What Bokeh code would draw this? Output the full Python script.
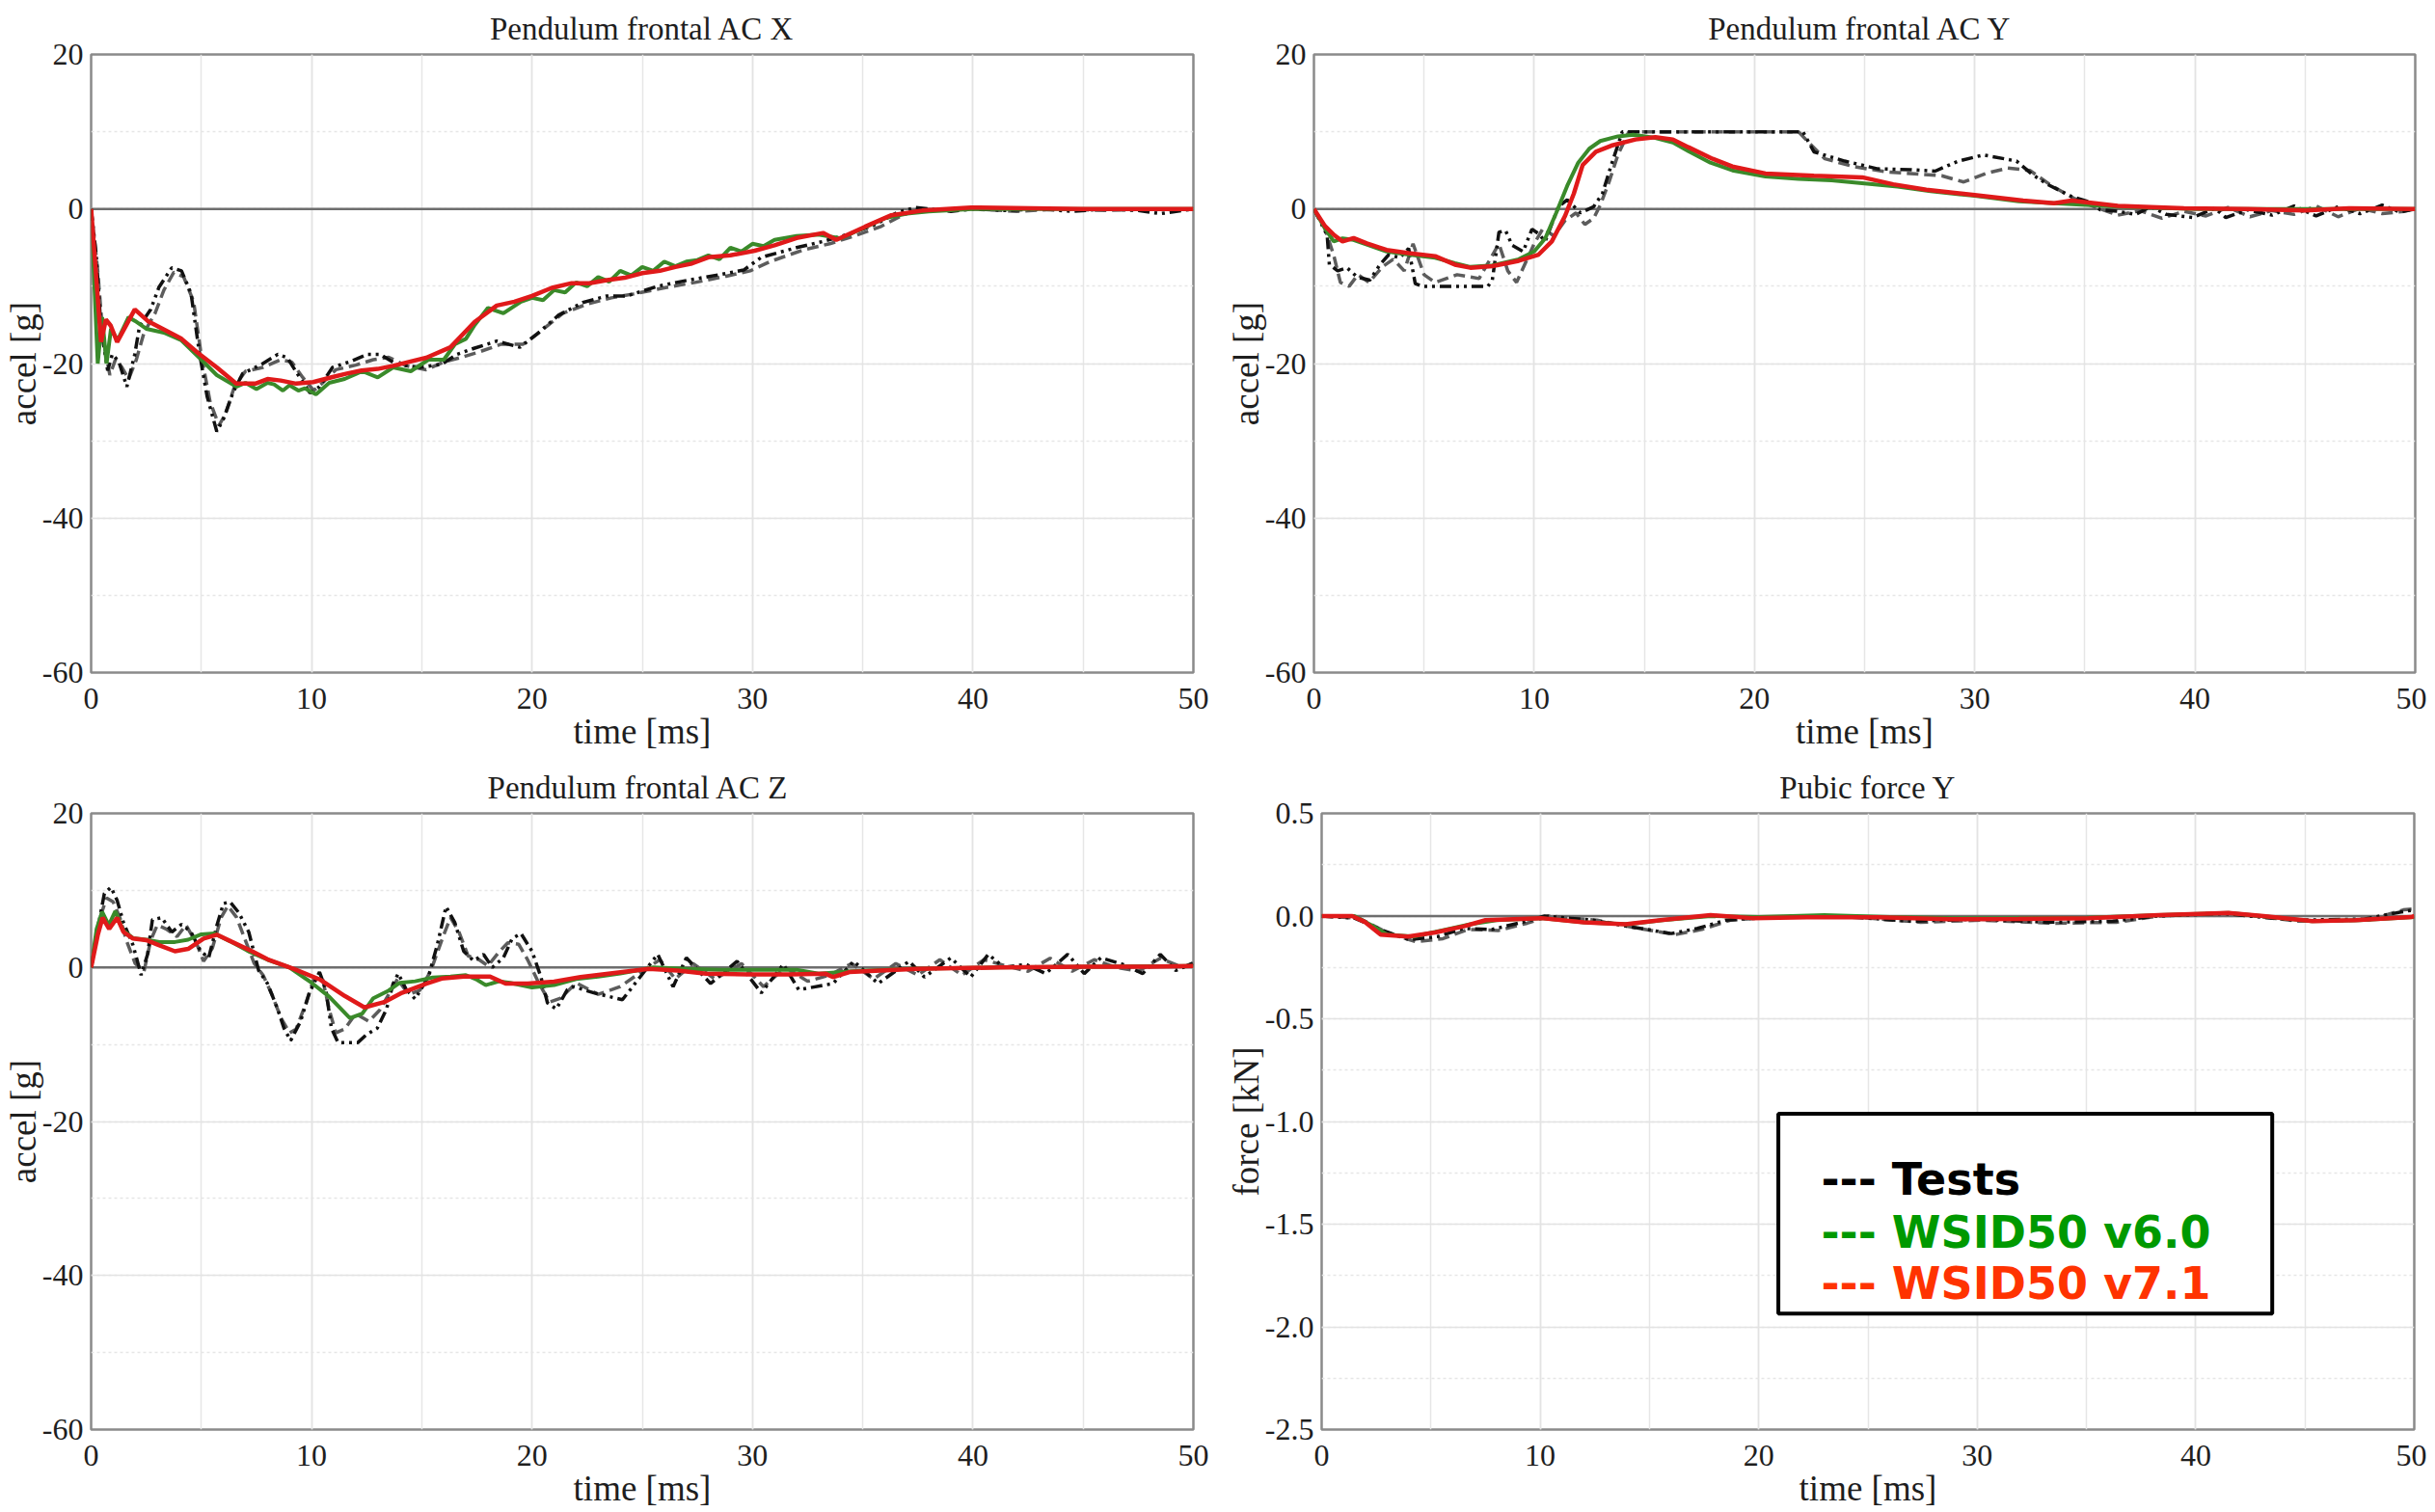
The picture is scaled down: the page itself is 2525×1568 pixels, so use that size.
from bokeh.plotting import figure
from bokeh.layouts import column, row
from bokeh.models import Range1d, SingleIntervalTicker, PrintfTickFormatter, Span, BoxAnnotation, Label
from bokeh.embed import file_html
from bokeh.resources import INLINE

# ---------------- Panel 1: Pendulum frontal AC X ----------------
x_test1_t = [0, 0.23, 0.45, 0.75, 0.96, 1.25, 1.62, 1.98, 2.2, 2.7, 3.08, 3.66, 4.1, 4.53, 4.9, 5.26, 5.7, 6.0, 6.43, 6.87,
             7.74, 8.47, 8.9, 9.35, 9.93, 10.36, 10.95, 11.8, 12.55, 13.1, 13.86, 14.9, 15.9, 16.6, 17.4, 18.4, 19.45,
             20.2, 21.2, 22.3, 23.4, 24.3, 25.7, 27.1, 28.5, 29.6, 30.4, 32.0, 33.2, 34.3, 35.5, 36.6, 37.4, 38.0, 39,
             40, 41.5, 43, 44.5, 46, 47.5, 48.5, 50]
x_test1_v = [0, -5.9, -15.5, -20.9, -18.8, -19.7, -23, -18.8, -15.1, -13, -10.1, -7.6, -8, -10.9, -18.4, -24.25, -28.8,
             -27.2, -23.8, -21.3, -20.1, -18.8, -19.25, -21.3, -23.8, -23, -20.5, -19.7, -18.8, -18.8, -20.1, -20.5,
             -20.1, -18.8, -18, -17.1, -17.9, -16.25, -13.75, -12.1, -11.25, -11.25, -10, -9.2, -8.5, -7.9, -6.25, -5,
             -4.2, -3.3, -2.1, -0.4, 0.2, 0, -0.3, 0, -0.2, 0, -0.3, 0, -0.2, -0.6, 0]
x_test2_t = [0, 0.3, 0.55, 0.85, 1.1, 1.4, 1.7, 2.05, 2.4, 2.9, 3.3, 3.75, 4.2, 4.65, 5.0, 5.4, 5.8, 6.1, 6.5, 7.0, 7.8,
             8.6, 9.1, 9.6, 10.1, 10.5, 11.1, 12.0, 12.8, 13.5, 14.3, 15.2, 16.0, 16.8, 17.6, 18.6, 19.6, 20.4, 21.4,
             22.5, 23.6, 24.6, 26.0, 27.4, 28.8, 29.9, 30.8, 32.3, 33.5, 34.6, 35.8, 36.8, 37.6, 38.5, 40, 42, 44, 46,
             48, 50]
x_test2_v = [0, -8, -17, -21.5, -19.5, -20.5, -22, -19.5, -16, -13.5, -10.5, -8.2, -8.8, -12, -19, -25, -28, -26.5, -23,
             -21, -20.5, -19.5, -19.8, -21.8, -23.5, -22.5, -20.8, -20.2, -19.5, -19.2, -20.3, -20.8, -19.8, -19.2,
             -18.5, -17.5, -17.5, -15.8, -13.5, -12.3, -11.5, -11, -10.2, -9.5, -8.7, -8, -6.8, -5.3, -4.5, -3.5,
             -2.3, -0.8, 0, -0.2, 0, -0.3, 0, -0.2, 0, 0]
x_v60_t = [0, 0.3, 0.5, 0.7, 0.9, 1.2, 1.7, 2.0, 2.5, 3.3, 4.1, 5.0, 5.7, 6.6, 7.0, 7.5, 8.0, 8.3, 8.7, 9.0, 9.4, 9.7,
           10.2, 10.8, 11.5, 12.3, 13.0, 13.7, 14.5, 15.3, 16.0, 16.5, 17.0, 17.4, 18.0, 18.7, 19.5, 20.0, 20.5, 21.0,
           21.5, 22.0, 22.5, 23.0, 23.5, 24.0, 24.5, 25.0, 25.5, 26.0, 26.5, 27.0, 27.5, 28.0, 28.5, 29.0, 29.5, 30.0,
           30.5, 31.0, 32.0, 33.0, 34.0, 35.0, 36.0, 37.0, 38.0, 40.0, 45, 50]
x_v60_v = [0, -20, -14, -20, -15.5, -17, -14, -14.5, -15.5, -16, -17, -19.5, -21.5, -23, -22.5, -23.3, -22.5, -22.7,
           -23.5, -22.8, -23.5, -23.2, -24, -22.5, -22, -21, -21.8, -20.5, -21, -19.5, -19.5, -17.5, -16.8, -15,
           -12.8, -13.5, -12, -11.5, -11.8, -10.5, -10.8, -9.5, -10, -8.8, -9.4, -8, -8.6, -7.5, -8.0, -6.8, -7.4,
           -6.8, -6.6, -6.0, -6.5, -5.0, -5.5, -4.5, -4.8, -4.0, -3.5, -3.3, -3.8, -2.5, -1.2, -0.6, -0.3, 0, 0, 0]
x_v71_t = [0, 0.45, 0.67, 0.89, 1.18, 1.98, 2.57, 3.37, 4.1, 4.83, 5.7, 6.58, 7.45, 8.0, 8.6, 9.3, 10.07, 10.95, 11.6,
           12.26, 13.0, 13.7, 14.4, 15.2, 16.3, 17.4, 18.4, 19.2, 20, 20.9, 21.8, 22.6, 23.4, 24.2, 25, 25.8, 26.5,
           27.2, 28, 29.0, 30.1, 31.0, 32, 33.2, 33.8, 35.1, 36.3, 37.7, 39.9, 45, 50]
x_v71_v = [0, -17.2, -14.3, -15.1, -17.2, -13.0, -14.5, -15.7, -16.8, -18.6, -20.5, -22.6, -22.6, -22.0, -22.2, -22.6,
           -22.4, -21.75, -21.3, -20.9, -20.7, -20.3, -19.8, -19.25, -17.9, -14.6, -12.5, -12.0, -11.25, -10.2, -9.6,
           -9.6, -9.2, -8.9, -8.3, -8.0, -7.5, -7.1, -6.25, -6.0, -5.4, -4.7, -3.75, -3.1, -4.0, -2.3, -0.8, -0.2,
           0.2, 0, 0]

# ---------------- Panel 2: Pendulum frontal AC Y ----------------
y_test1_t = [0, 0.6, 0.7, 1.08, 1.5, 1.96, 2.54, 3.0, 3.4, 3.9, 4.3, 4.6, 4.9, 7.9, 8.1, 8.4, 8.7, 9.0, 9.5, 9.9, 10.2,
             10.5, 11.1, 11.5, 12.1, 12.7, 13.1, 13.5, 14.0, 22.2, 22.7, 24.1, 25.6, 27.1, 28.2, 29.25, 30.4, 31.9,
             32.6, 33.3, 34.4, 35.1, 35.7, 36.5, 37.3, 38.0, 38.7, 39.9, 40.9, 41.4, 42.4, 43.5, 44.5, 45.5, 46.5,
             47.5, 48.5, 49.3, 50]
y_test1_v = [0, -3.4, -7.2, -8, -7.6, -8.8, -9.2, -7.2, -5.9, -6.3, -5.1, -9.65, -10, -10, -9.2, -3, -2.8, -4.7, -5.5,
             -2.6, -3.2, -4.2, 0.3, 1.2, -0.5, 0.3, 2.0, 5.7, 10, 10, 7.4, 6.2, 5.2, 5.1, 4.9, 6.2, 7.0, 6.2, 4.5, 3.2,
             1.6, 1.0, -0.1, -0.3, -0.7, 0.3, -0.7, -1.1, 0.1, -1.1, -0.1, -0.8, 0.4, -0.9, 0.3, -0.6, 0.5, -0.4, 0]
y_test2_t = [0, 0.5, 0.9, 1.2, 1.6, 2.0, 2.5, 3.1, 3.6, 4.1, 4.5, 5.0, 5.5, 6.5, 7.5, 8.0, 8.4, 8.8, 9.2, 9.6, 10.0,
             10.4, 10.9, 11.4, 11.9, 12.3, 12.7, 13.0, 13.4, 13.8, 14.3, 22.0, 22.5, 23.2, 24.5, 26.0, 27.5, 28.5,
             29.5, 30.5, 31.5, 32.5, 33.5, 34.5, 35.5, 36.5, 37.5, 38.5, 39.5, 40.5, 41.5, 42.5, 43.5, 44.5, 45.5,
             46.5, 47.5, 48.5, 49.5, 50]
y_test2_v = [0, -2.5, -6, -9.5, -10, -8.5, -9.5, -7.5, -6.5, -8, -4.5, -8.5, -9.5, -8.5, -9, -6.5, -4.5, -8.0, -9.5,
             -7.0, -4.5, -2.5, -3.5, -1.5, -0.5, -2.0, -1.2, 0.5, 3.5, 7, 10, 10, 8.5, 6.5, 5.5, 4.8, 4.5, 4.3, 3.5,
             4.6, 5.3, 5.0, 3.0, 1.4, 0.2, -0.8, -0.2, -1.2, -0.3, -0.9, 0.2, -1.0, -0.2, -0.7, 0.4, -1.0, 0.1, -0.6,
             -0.3, 0]
y_v60_t = [0, 0.5, 0.9, 1.3, 1.8, 2.4, 3.3, 4.3, 5.5, 6.4, 7.1, 8.1, 9.3, 10.0, 10.5, 11.0, 11.5, 12.0, 12.5, 13.0,
           13.8, 14.5, 15.5, 16.3, 17.0, 18.0, 19.0, 20.5, 22.0, 23.5, 25.0, 26.5, 28.0, 30.0, 32.0, 34.0, 36.5, 40,
           45, 50]
y_v60_v = [0, -2.5, -4.2, -3.8, -4.0, -4.6, -5.5, -5.9, -6.3, -7.0, -7.5, -7.3, -6.5, -5.5, -3.8, -0.5, 3.0, 6.0,
           7.8, 8.8, 9.4, 9.6, 9.2, 8.6, 7.5, 6.0, 5.0, 4.2, 3.9, 3.7, 3.3, 2.9, 2.3, 1.7, 1.0, 0.7, 0.3, 0, 0, 0]
y_v71_t = [0, 0.5, 0.93, 1.3, 1.8, 2.4, 3.3, 4.3, 5.5, 6.4, 7.1, 8.1, 9.3, 10.2, 10.8, 11.4, 11.8, 12.2, 12.8, 13.5,
           14.6, 15.5, 16.3, 17.0, 18.1, 19.0, 20.5, 22.7, 24.9, 26.3, 27.8, 30.0, 32.2, 33.6, 34.4, 36.5, 39.5, 42.4,
           45, 47, 50]
y_v71_v = [0, -2.2, -3.4, -4.2, -3.75, -4.45, -5.3, -5.7, -6.1, -7.2, -7.6, -7.4, -6.7, -5.9, -4.2, -0.9, 2.0, 5.7,
           7.4, 8.2, 9.0, 9.3, 9.0, 8.0, 6.5, 5.5, 4.6, 4.3, 4.1, 3.2, 2.5, 1.8, 1.1, 0.75, 1.1, 0.4, 0.1, 0, -0.2,
           0.1, 0]

# ---------------- Panel 3: Pendulum frontal AC Z ----------------
z_test1_t = [0, 0.3, 0.6, 0.9, 1.18, 1.47, 1.9, 2.27, 2.56, 2.78, 3.2, 3.66, 4.1, 4.53, 4.97, 5.33, 5.7, 6.0, 6.3, 6.7,
             7.15, 7.6, 8.0, 8.46, 8.75, 9.05, 9.5, 9.9, 10.36, 10.65, 10.9, 11.2, 12.1, 12.5, 12.98, 13.4, 13.7,
             13.93, 14.3, 14.7, 15.3, 15.7, 16.1, 16.5, 16.9, 17.35, 17.8, 18.2, 18.7, 19.1, 19.5, 20.0, 20.4, 20.7,
             21.1, 21.6, 21.9, 22.8, 24.1, 24.9, 25.7, 26.4, 27.0, 28.1, 29.3, 30.4, 31.4, 32.1, 33.65, 34.6, 35.7,
             37.1, 37.8, 39.0, 39.9, 40.7, 41.4, 42.4, 43.3, 44.3, 45.05, 45.8, 46.8, 47.7, 48.5, 49.2, 50]
z_test1_v = [0, 5.0, 9.6, 10.4, 8.7, 5.8, 2.9, -1.0, 1.7, 6.2, 6.45, 4.6, 5.6, 4.6, 2.1, 1.25, 5.4, 8.3, 8.5, 7.1,
             4.6, -0.4, -2.1, -5.4, -7.9, -9.5, -7.0, -3.3, -0.6, -2.9, -7.9, -9.75, -9.75, -8.7, -7.9, -5.4, -2.1,
             -0.8, -2.9, -4.1, -1.2, 2.9, 7.9, 5.8, 2.1, 0.85, 1.7, 0, 1.25, 3.75, 4.4, 2.1, -1.2, -4.6, -5.4, -2.9,
             -2.5, -3.3, -4.2, -1.25, 1.7, -2.5, 1.25, -2.1, 0.8, -3.3, 0.4, -2.9, -2.1, 0.8, -2.1, 0.8, -1.25, 1.25,
             -1.25, 1.7, 0, 0.4, -0.8, 1.7, -0.8, 1.25, 0.4, -0.8, 1.7, -0.4, 0.6]
z_test2_t = [0, 0.35, 0.7, 1.0, 1.3, 1.6, 2.0, 2.4, 2.7, 3.0, 3.4, 3.9, 4.3, 4.8, 5.1, 5.5, 5.9, 6.2, 6.6, 7.0, 7.4,
             7.8, 8.2, 8.6, 9.0, 9.3, 9.7, 10.1, 10.5, 10.8, 11.1, 11.5, 12.0, 12.6, 13.1, 13.5, 13.9, 14.4, 14.9,
             15.4, 15.9, 16.3, 16.7, 17.1, 17.6, 18.0, 18.5, 18.9, 19.4, 19.8, 20.3, 20.8, 21.3, 22.0, 23.0, 24.0,
             25.0, 25.8, 26.5, 27.3, 28.3, 29.5, 30.5, 31.5, 32.5, 33.5, 34.5, 35.5, 36.5, 37.5, 38.5, 39.5, 40.5,
             41.5, 42.5, 43.5, 44.5, 45.5, 46.5, 47.5, 48.5, 49.5, 50]
z_test2_v = [0, 6.0, 9.0, 8.5, 6.5, 3.5, 0.5, -0.5, 3.5, 5.5, 5.0, 4.0, 5.5, 3.0, 0.8, 2.5, 6.5, 8.0, 6.5, 3.5, 0.5,
             -1.0, -3.5, -6.5, -8.5, -8.0, -5.0, -1.5, -1.5, -5.5, -8.5, -8.0, -6.0, -7.0, -5.5, -3.5, -1.5, -3.5,
             -3.0, -0.5, 3.5, 6.5, 4.5, 1.5, 1.0, 0.2, 2.0, 3.2, 3.0, 1.0, -2.0, -4.5, -4.0, -2.0, -3.5, -2.5, -0.5,
             1.0, -1.5, 0.5, -1.5, 0.5, -2.5, 0.0, -1.8, -1.0, 0.5, -1.5, 0.5, -1.0, 1.0, -1.0, 1.0, 0.2, -0.5, 1.2,
             -0.5, 1.0, 0.0, -0.5, 1.2, 0.0, 0.5]
z_v60_t = [0, 0.25, 0.5, 0.8, 1.1, 1.45, 1.9, 2.5, 3.1, 3.8, 4.4, 5.0, 5.6, 6.3, 7.2, 8.0, 9.0, 10.0, 10.8, 11.74,
           12.3, 12.8, 13.5, 14.0, 14.7, 15.5, 16.3, 17.0, 17.5, 17.9, 18.5, 19.0, 20.0, 21.0, 22.0, 23.0, 24.0, 25.5,
           27.0, 28.5, 30.0, 32.0, 33.0, 34.5, 37, 41, 45, 50]
z_v60_v = [0, 5.0, 7.2, 5.5, 7.3, 4.8, 3.8, 3.6, 3.3, 3.3, 3.6, 4.3, 4.4, 3.4, 2.0, 1.0, 0.0, -2.0, -3.8, -6.6, -6.0,
           -4.0, -3.0, -2.0, -1.8, -1.3, -1.2, -1.0, -1.6, -2.3, -1.8, -2.0, -2.6, -2.3, -1.5, -1.2, -0.8, 0.0, -0.2,
           -0.3, -0.3, -0.3, -0.8, -0.5, -0.2, 0, 0.1, 0.2]
z_v71_t = [0, 0.3, 0.52, 0.82, 1.18, 1.47, 1.9, 2.5, 3.07, 3.8, 4.4, 5.1, 5.7, 6.4, 7.3, 8.0, 9.2, 10.4, 11.5, 12.4,
           13.3, 14.1, 15.2, 15.9, 16.9, 18.1, 18.8, 19.8, 21.0, 22.2, 24.1, 25.3, 26.6, 27.9, 29.8, 31.7, 33.3,
           33.65, 34.4, 37.45, 41.25, 45.05, 48, 50]
z_v71_v = [0, 4.2, 6.45, 5.0, 6.45, 4.6, 3.75, 3.55, 2.9, 2.1, 2.4, 3.75, 4.25, 3.3, 2.1, 1.05, -0.2, -1.6, -3.7,
           -5.2, -4.5, -3.3, -2.1, -1.45, -1.2, -1.2, -2.1, -2.1, -1.85, -1.25, -0.6, -0.2, -0.4, -0.8, -0.9, -0.9,
           -0.8, -1.25, -0.6, -0.2, 0, 0.1, 0.1, 0.2]

# ---------------- Panel 4: Pubic force Y ----------------
f_test1_t = [0, 1.5, 2.8, 4.0, 5.3, 6.5, 7.8, 9.2, 10.2, 12.4, 14.3, 16.0, 17.2, 18.5, 20.5, 23.5, 27.0, 30.0, 33.2,
             36.2, 38.2, 41.3, 44.5, 47.7, 49.4, 50]
f_test1_v = [0, -0.01, -0.07, -0.115, -0.1, -0.06, -0.065, -0.03, 0, -0.02, -0.055, -0.085, -0.06, -0.02, -0.005,
             0, -0.025, -0.015, -0.03, -0.025, 0, 0.012, -0.02, -0.015, 0.02, 0.03]
f_test2_t = [0, 1.7, 3.0, 4.3, 5.55, 6.7, 8.1, 9.4, 10.4, 12.6, 14.5, 16.2, 17.4, 18.7, 20.65, 23.85, 27.4, 30.25,
             33.5, 36.4, 38.3, 41.5, 44.7, 47.9, 49.5, 50]
f_test2_v = [0, -0.01, -0.08, -0.125, -0.11, -0.065, -0.07, -0.035, 0, -0.02, -0.06, -0.09, -0.065, -0.02, -0.006, 0,
             -0.03, -0.02, -0.035, -0.03, 0, 0.015, -0.025, -0.02, 0.03, 0.035]
f_v60_t = [0, 1.5, 2.2, 3.0, 4.2, 5.5, 6.8, 8.0, 10.0, 12.0, 14.0, 15.6, 17.8, 20.0, 23.0, 26.0, 29.0, 32.0, 35.0,
           38.3, 41.5, 43.0, 45.3, 47.5, 50]
f_v60_v = [0, 0, -0.04, -0.09, -0.1, -0.07, -0.04, -0.02, -0.01, -0.03, -0.04, -0.02, 0.0, -0.005, 0.005, -0.005,
           -0.01, -0.01, -0.008, 0.005, 0.015, 0.0, -0.025, -0.02, -0.005]
f_v71_t = [0, 1.4, 2.0, 2.7, 3.95, 5.2, 6.5, 7.5, 10.05, 12.0, 13.9, 15.5, 17.8, 19.7, 22.2, 25.5, 28.7, 31.9, 35.1,
           38.3, 41.5, 43.1, 45.35, 47.3, 49.85, 50]
f_v71_v = [0, 0, -0.03, -0.09, -0.1, -0.08, -0.05, -0.02, -0.01, -0.03, -0.04, -0.02, 0.005, -0.01, -0.006, -0.006,
           -0.015, -0.014, -0.01, 0.005, 0.015, 0, -0.025, -0.02, -0.005, 0]

titles = ["Pendulum frontal AC X", "Pendulum frontal  AC Y", "Pendulum frontal  AC Z", "Pubic force Y"]
x_label = "time [ms]"
y_labels = ["accel [g]", "accel [g]", "accel [g]", "force [kN]"]
legend_labels = ["--- Tests", "--- WSID50 v6.0", "--- WSID50 v7.1"]

SERIF = "Liberation Serif"
C_TEST1 = "#111111"
C_TEST2 = "#5c5c5c"
C_GREEN = "#3a8a2a"
C_RED = "#e01a1a"


def make_panel(title, ylabel, yr, yint, width, height, bl, br, bt, bb, fmt):
    p = figure(width=width, height=height, output_backend="svg", toolbar_location=None,
               x_range=Range1d(0, 50), y_range=Range1d(*yr),
               min_border_left=bl, min_border_right=br, min_border_top=bt, min_border_bottom=bb)
    p.title.text = title
    p.title.align = "center"
    p.title.text_font = SERIF
    p.title.text_font_size = "33px"
    p.title.text_font_style = "normal"
    p.title.text_color = "#1e1e1e"
    p.title.standoff = 17
    p.background_fill_color = "white"
    p.border_fill_color = "white"
    p.outline_line_color = "#8a8a8a"
    p.outline_line_width = 2.5

    xt = SingleIntervalTicker(interval=10, num_minor_ticks=2)
    yt = SingleIntervalTicker(interval=yint, num_minor_ticks=2)
    p.xaxis.ticker = xt
    p.yaxis.ticker = yt
    p.xgrid.ticker = xt
    p.ygrid.ticker = yt
    p.xaxis.formatter = PrintfTickFormatter(format="%d")
    p.yaxis.formatter = PrintfTickFormatter(format=fmt)
    for g in (p.xgrid, p.ygrid):
        g.grid_line_color = "#e3e3e3"
        g.grid_line_width = 1.5
        g.minor_grid_line_color = "#e6e6e6"
        g.minor_grid_line_width = 1.5
        g.minor_grid_line_dash = "3 3"
    p.xgrid.minor_grid_line_dash = "solid"

    p.xaxis.axis_label = x_label
    p.yaxis.axis_label = ylabel
    for ax in p.axis:
        ax.axis_line_color = None
        ax.major_tick_line_color = None
        ax.minor_tick_line_color = None
        ax.major_tick_out = 0
        ax.major_tick_in = 0
        ax.major_label_text_font = SERIF
        ax.major_label_text_font_size = "32px"
        ax.major_label_text_color = "#1e1e1e"
        ax.axis_label_text_font = SERIF
        ax.axis_label_text_font_size = "37px"
        ax.axis_label_text_font_style = "normal"
        ax.axis_label_text_color = "#1e1e1e"
    p.xaxis.axis_label_standoff = 0
    p.yaxis.axis_label_standoff = -4
    p.xaxis.major_label_standoff = 12
    p.yaxis.major_label_standoff = 4

    zero = Span(location=0, dimension="width", line_color="#6e6e6e", line_width=2.5, level="underlay")
    p.add_layout(zero)
    return p


def add_series(p, t1, v1, t2, v2, tg, vg, tr, vr):
    p.line(t2, v2, line_color=C_TEST2, line_width=3.5, line_dash="12 6")
    p.line(t1, v1, line_color=C_TEST1, line_width=3.5, line_dash="12 5 3 5 3 5")
    p.line(tg, vg, line_color=C_GREEN, line_width=4)
    p.line(tr, vr, line_color=C_RED, line_width=4.5)


p1 = make_panel(titles[0], y_labels[0], (-60, 20), 20, 1256, 783, 93, 19, 56, 86, "%d")
add_series(p1, x_test1_t, x_test1_v, x_test2_t, x_test2_v, x_v60_t, x_v60_v, x_v71_t, x_v71_v)

p2 = make_panel(titles[1], y_labels[1], (-60, 20), 20, 1260, 783, 106, 12, 56, 86, "%d")
add_series(p2, y_test1_t, y_test1_v, y_test2_t, y_test2_v, y_v60_t, y_v60_v, y_v71_t, y_v71_v)

p3 = make_panel(titles[2], y_labels[2], (-60, 20), 20, 1256, 783, 93, 19, 60, 81, "%d")
add_series(p3, z_test1_t, z_test1_v, z_test2_t, z_test2_v, z_v60_t, z_v60_v, z_v71_t, z_v71_v)

p4 = make_panel(titles[3], y_labels[3], (-2.5, 0.5), 0.5, 1260, 783, 114, 13, 60, 81, "%.1f")
add_series(p4, f_test1_t, f_test1_v, f_test2_t, f_test2_v, f_v60_t, f_v60_v, f_v71_t, f_v71_v)

# legend box (drawn as annotations in panel 4)
box = BoxAnnotation(left=20.9, right=43.5, bottom=-1.935, top=-0.963,
                    fill_color="white", fill_alpha=1.0, line_color="black", line_width=4, line_alpha=1.0)
p4.add_layout(box)
legend_colors = ["#000000", "#009900", "#ff3300"]
legend_y = [-1.28, -1.542, -1.79]
for txt, col, yy in zip(legend_labels, legend_colors, legend_y):
    p4.add_layout(Label(x=22.86, y=yy, text=txt, text_font="DejaVu Sans", text_font_style="bold",
                        text_font_size="46px", text_color=col, text_baseline="alphabetic", text_align="left"))

layout = column(row(p1, p2), row(p3, p4))

open("out.html", "w").write(file_html(layout, INLINE))
